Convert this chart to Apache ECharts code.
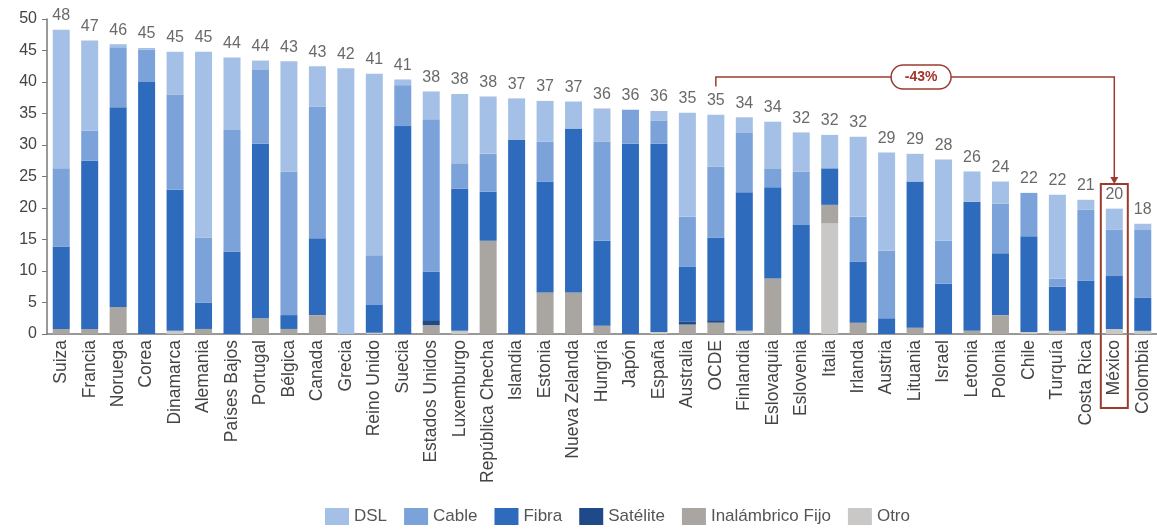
<!DOCTYPE html>
<html>
<head>
<meta charset="utf-8">
<script src="https://cdn.jsdelivr.net/npm/echarts@6/dist/echarts.min.js"></script>
<style>
  html, body { margin: 0; padding: 0; background: #fff; }
  #chart { width: 1157px; height: 532px; }
</style>
</head>
<body>
<div id="chart"></div>
<script>
// paises (orden del grafico)
var paises = ['Suiza', 'Francia', 'Noruega', 'Corea', 'Dinamarca', 'Alemania', 'Países Bajos', 'Portugal',
  'Bélgica', 'Canada', 'Grecia', 'Reino Unido', 'Suecia', 'Estados Unidos', 'Luxemburgo', 'República Checha',
  'Islandia', 'Estonia', 'Nueva Zelanda', 'Hungría', 'Japón', 'España', 'Australia', 'OCDE', 'Finlandia',
  'Eslovaquia', 'Eslovenia', 'Italia', 'Irlanda', 'Austria', 'Lituania', 'Israel', 'Letonia', 'Polonia',
  'Chile', 'Turquía', 'Costa Rica', 'México', 'Colombia'];

// valores por tecnologia
var dsl = [22.0, 14.3, 0.5, 0.3, 6.8, 29.5, 11.5, 1.5, 17.5, 6.4, 42.2, 28.8, 0.9, 4.4, 11.0, 9.1, 6.6, 6.5, 4.3,
  5.3, 0, 1.5, 16.5, 8.2, 2.5, 7.4, 6.2, 5.3, 12.7, 15.6, 4.4, 12.9, 4.8, 3.5, 0, 13.3, 1.6, 3.3, 1.0];
var cable = [12.4, 4.8, 9.5, 5.1, 15.1, 10.3, 19.3, 11.7, 22.8, 20.9, 0, 7.9, 6.5, 24.2, 4.0, 6.0, 0, 6.3, 0,
  15.7, 5.4, 3.7, 7.9, 11.3, 9.4, 3.0, 8.5, 0, 7.1, 10.7, 0, 6.8, 0, 7.9, 6.9, 1.3, 11.2, 7.4, 10.7];
var fibra = [13.1, 26.7, 31.7, 40.0, 22.4, 4.2, 13.1, 27.7, 2.2, 12.2, 0, 4.4, 33.0, 7.7, 22.6, 7.8, 30.8, 17.6, 26.0,
  13.5, 30.2, 29.9, 8.7, 13.1, 22.0, 14.5, 17.3, 5.8, 9.7, 2.5, 23.2, 8.0, 20.5, 9.8, 15.2, 7.0, 8.5, 8.4, 5.3];
var satelite = [0, 0, 0, 0, 0, 0, 0, 0, 0, 0, 0, 0, 0, 0.8, 0, 0, 0, 0, 0,
  0, 0, 0, 0.5, 0.4, 0, 0, 0, 0, 0, 0, 0, 0, 0, 0, 0, 0, 0, 0, 0];
var inalambrico = [0.8, 0.8, 4.3, 0, 0, 0.8, 0, 2.5, 0.8, 3.0, 0, 0, 0, 1.4, 0, 14.8, 0, 6.6, 6.6,
  1.3, 0, 0, 1.5, 1.8, 0, 8.8, 0, 2.9, 1.8, 0, 1.0, 0, 0.5, 3.0, 0, 0, 0, 0, 0];
var otro = [0, 0, 0, 0, 0.5, 0, 0, 0, 0, 0, 0, 0.2, 0, 0, 0.5, 0, 0, 0, 0,
  0, 0, 0.3, 0, 0, 0.5, 0, 0, 17.6, 0, 0, 0, 0, 0, 0, 0.3, 0.5, 0, 0.8, 0.5];

// totales que aparecen sobre cada barra
var totales = [48, 47, 46, 45, 45, 45, 44, 44, 43, 43, 42, 41, 41, 38, 38, 38, 37, 37, 37, 36, 36, 36, 35, 35,
  34, 34, 32, 32, 32, 29, 29, 28, 26, 24, 22, 22, 21, 20, 18];

var yTicks = [0, 5, 10, 15, 20, 25, 30, 35, 40, 45, 50];

var colores = {
  dsl: '#a5c0e6',
  cable: '#7ba3da',
  fibra: '#2f6bbd',
  satelite: '#1f4a8a',
  inalambrico: '#a9a6a1',
  otro: '#c9c8c6'
};

var fuente = 'Liberation Sans, Arial, sans-serif';
var rojo = '#9b3b2f';

var sumas = paises.map(function (p, i) {
  return dsl[i] + cable[i] + fibra[i] + satelite[i] + inalambrico[i] + otro[i];
});

function serie(nombre, datos, color) {
  return {
    name: nombre,
    type: 'bar',
    stack: 'total',
    barWidth: 17,
    data: datos,
    itemStyle: { color: color },
    emphasis: { disabled: true }
  };
}

var chartDom = document.getElementById('chart');
var myChart = echarts.init(chartDom);

var option = {
  animation: false,
  textStyle: { fontFamily: fuente },
  grid: { left: 47, top: 19, width: 1117, bottom: 198 },
  legend: {
    data: ['DSL', 'Cable', 'Fibra', 'Satélite', 'Inalámbrico Fijo', 'Otro'],
    bottom: 2,
    left: 320,
    itemWidth: 24,
    itemHeight: 17,
    itemGap: 17,
    icon: 'rect',
    textStyle: { fontSize: 17, color: '#555', fontFamily: fuente }
  },
  xAxis: {
    type: 'category',
    data: paises,
    axisLine: { lineStyle: { color: '#777', width: 1.5 } },
    axisTick: { show: false },
    axisLabel: {
      rotate: 90,
      interval: 0,
      margin: 6,
      fontSize: 17.5,
      color: '#444',
      fontFamily: fuente
    }
  },
  yAxis: {
    type: 'value',
    min: 0,
    max: 50,
    interval: 5,
    splitLine: { show: false },
    axisLine: { show: true, lineStyle: { color: '#777', width: 1.5 } },
    axisTick: { show: true, length: 5, lineStyle: { color: '#777' } },
    axisLabel: {
      fontSize: 16,
      color: '#444',
      margin: 10,
      fontFamily: fuente,
      formatter: function (v) { return yTicks.indexOf(v) >= 0 ? String(v) : ''; }
    }
  },
  series: [
    serie('Otro', otro, colores.otro),
    serie('Inalámbrico Fijo', inalambrico, colores.inalambrico),
    serie('Satélite', satelite, colores.satelite),
    serie('Fibra', fibra, colores.fibra),
    serie('Cable', cable, colores.cable),
    serie('DSL', dsl, colores.dsl),
    {
      name: 'Total',
      type: 'scatter',
      data: sumas.map(function (s, i) { return [i, s]; }),
      symbolSize: 2,
      itemStyle: { color: 'rgba(0,0,0,0)' },
      silent: true,
      z: 5,
      label: {
        show: true,
        position: 'top',
        distance: 5,
        fontSize: 16,
        color: '#444',
        fontFamily: fuente,
        formatter: function (p) { return String(totales[p.dataIndex]); }
      }
    }
  ]
};

myChart.setOption(option);

// anotacion OCDE -> Mexico (-43%)
var iOcde = paises.indexOf('OCDE');
var iMex = paises.indexOf('México');
var pOcde = myChart.convertToPixel({ xAxisIndex: 0, yAxisIndex: 0 }, [iOcde, 39.3]);
var pTop = myChart.convertToPixel({ xAxisIndex: 0, yAxisIndex: 0 }, [iMex, 40.8]);
var pMex = myChart.convertToPixel({ xAxisIndex: 0, yAxisIndex: 0 }, [iMex, 23.8]);
var yLinea = pTop[1];
var xMid = (pOcde[0] + pMex[0]) / 2 + 6;

myChart.setOption({
  graphic: [
    {
      type: 'polyline',
      shape: { points: [[pOcde[0], pOcde[1]], [pOcde[0], yLinea], [pMex[0], yLinea], [pMex[0], pMex[1] - 6]] },
      style: { stroke: rojo, lineWidth: 1.5, fill: null },
      silent: true
    },
    {
      type: 'polygon',
      shape: { points: [[pMex[0] - 4, pMex[1] - 7], [pMex[0] + 4, pMex[1] - 7], [pMex[0], pMex[1]]] },
      style: { fill: rojo },
      silent: true
    },
    {
      type: 'rect',
      shape: { x: xMid - 30, y: yLinea - 12, width: 60, height: 24, r: 12 },
      style: { fill: '#fff', stroke: rojo, lineWidth: 1.5 },
      silent: true
    },
    {
      type: 'text',
      x: xMid,
      y: yLinea,
      style: {
        text: '-43%',
        fill: '#a3352a',
        font: 'bold 14px ' + fuente,
        align: 'center',
        verticalAlign: 'middle'
      },
      silent: true
    },
    {
      type: 'rect',
      shape: { x: pMex[0] - 13.5, y: pMex[1], width: 27, height: 224 },
      style: { fill: null, stroke: rojo, lineWidth: 2 },
      silent: true
    }
  ]
});
</script>
</body>
</html>
